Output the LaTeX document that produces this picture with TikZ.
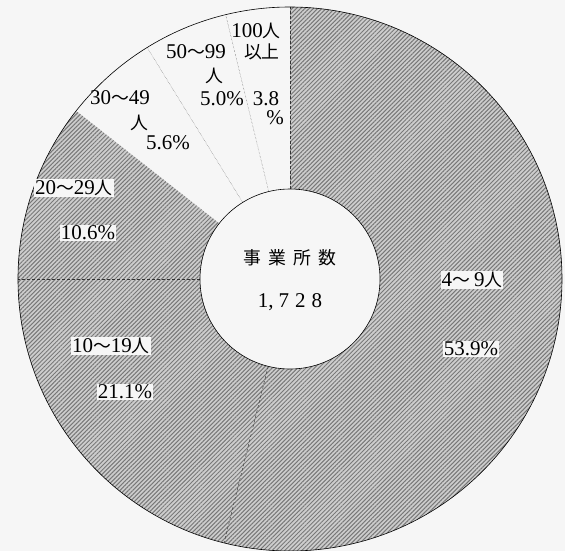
\documentclass[tikz,border=0pt]{standalone}
\usepackage{fontspec}
\setmainfont{Liberation Serif}
\newfontfamily\cjk[Scale=0.85]{Noto Sans CJK JP}
\usetikzlibrary{patterns.meta}
\definecolor{paper}{RGB}{246,246,246}
\definecolor{hatch_bg}{RGB}{205,205,205}
\definecolor{hatch_ln}{RGB}{120,120,120}
\newcommand{\hito}{{\cjk 人}}
\newcommand{\kara}{{\cjk 〜}}

\begin{document}
\begin{tikzpicture}[x=1pt,y=1pt,font=\fontsize{21}{23}\selectfont]
    \tikzstyle{hatched}=[fill=hatch_bg, postaction={pattern={Lines[angle=45,distance=3pt,line width=1pt]}, pattern color=hatch_ln}]
    \tikzstyle{lbl}=[inner sep=1pt, text=black]
    \tikzstyle{boxed}=[style=lbl, fill=paper]
    \tikzstyle{cut}=[densely dashed, thin, black!80]
    \tikzstyle{sep}=[densely dotted, thin, black!65]
    \def\Rout{272}
    \def\Rin{90}

    \useasboundingbox[fill=paper] (-290,-272) rectangle (275,279);

    % hatched sectors, clockwise from the top
    \fill[hatched] (0,0) -- (90:\Rout) arc (90:-104.04:\Rout) -- cycle;
    \fill[hatched] (0,0) -- (-104.04:\Rout) arc (-104.04:-180:\Rout) -- cycle;
    \fill[hatched] (0,0) -- (-180:\Rout) arc (-180:-218.16:\Rout) -- cycle;

    \draw[cut] (0,0) -- (90:\Rout);
    \draw[cut] (0,0) -- (-104.04:\Rout);
    \draw[cut] (0,0) -- (-180:\Rout);
    \draw[sep] (0,0) -- (-238.32:\Rout);
    \draw[sep] (0,0) -- (-256.32:\Rout);

    \draw[semithick] (0,0) circle (\Rout);
    \draw[semithick, fill=paper] (0,0) circle (\Rin);

    \node[lbl] (total)  at (0,21)  {{\cjk 事\hspace{7pt}業\hspace{7pt}所\hspace{7pt}数}};
    \node[lbl] (count)  at (0,-23) {1,\hspace{5pt}7\hspace{6pt}2\hspace{6pt}8};

    \node[boxed] (s1)   at (182,-1)   {4\kara\hspace{4pt}9\hito};
    \node[boxed] (p1)   at (181,-70)  {53.9\%};
    \node[boxed] (s2)   at (-179,-67) {10\kara19\hito};
    \node[boxed] (p2)   at (-165,-113){21.1\%};
    \node[boxed] (s3)   at (-216,91)  {20\kara29\hito};
    \node[boxed] (p3)   at (-202,46)  {10.6\%};
    \node[lbl]   (s4)   at (-170,181) {30\kara49};
    \node[lbl]   (s4b)  at (-151,156) {\hito};
    \node[lbl]   (p4)   at (-122,136) {5.6\%};
    \node[lbl]   (s5)   at (-94,227)  {50\kara99};
    \node[lbl]   (s5b)  at (-76,203)  {\hito};
    \node[lbl]   (p5)   at (-68,180)  {5.0\%};
    \node[lbl]   (s6)   at (-34,248)  {100\hito};
    \node[lbl]   (s6b)  at (-28,227)  {{\cjk 以上}};
    \node[lbl]   (p6)   at (-24,180)  {3.8};
    \node[lbl]   (p6b)  at (-15,161)  {\%};
\end{tikzpicture}
\end{document}
